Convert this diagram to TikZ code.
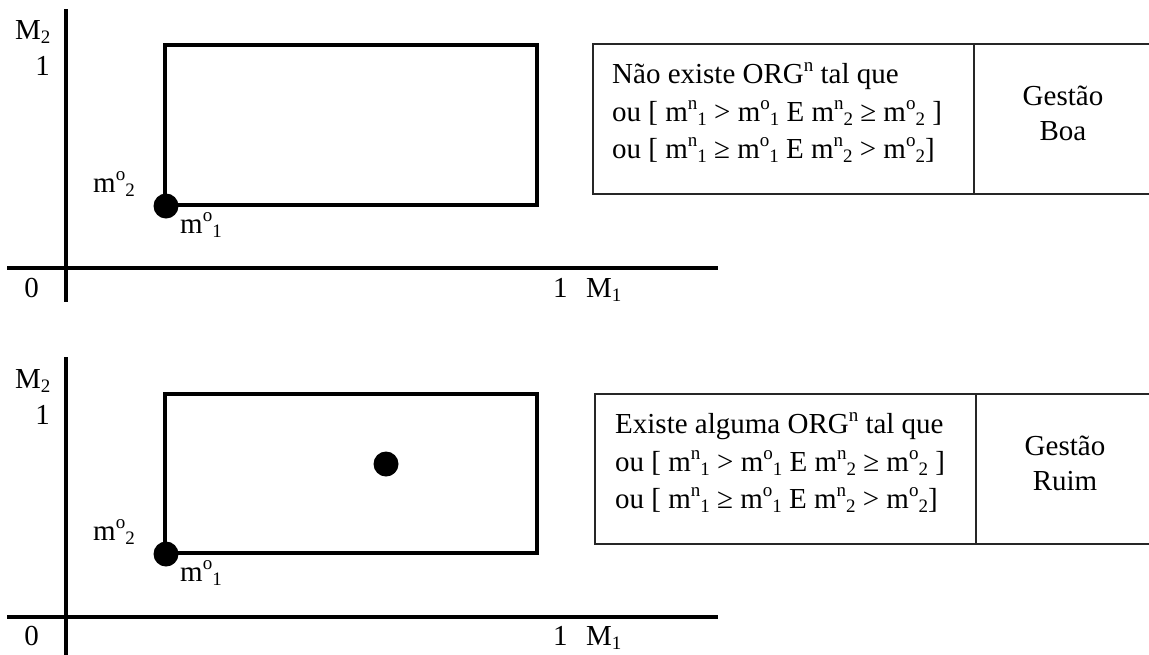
\documentclass[tikz,border=0pt]{standalone}
\usepackage{fontspec}
\setmainfont{Liberation Serif}
\newcommand{\up}[1]{\raisebox{12pt}{\fontsize{19}{19}\selectfont #1}}
\newcommand{\dn}[1]{\raisebox{-4pt}{\fontsize{19}{19}\selectfont #1}}
\begin{document}
\begin{tikzpicture}[x=1pt,y=-1pt,
  axis/.style={line width=4pt},
  region/.style={line width=4pt},
  cell/.style={line width=1.6pt, black!85},
  lbl/.style={font=\fontsize{29}{35}\selectfont, inner sep=0pt},
  dot/.style={circle, fill=black, minimum size=25pt, inner sep=0pt}]
\useasboundingbox (0,0) rectangle (1149,654);

% ---------- top panel ----------
\begin{scope}
\coordinate (yt) at (66,9); \coordinate (yb) at (66,302);
\coordinate (xl) at (7,268); \coordinate (xr) at (718,268);
\draw[axis] (yt) -- (yb);
\draw[axis] (xl) -- (xr);
\node[lbl, anchor=base west] (M2a) at (15,39) {M\dn{2}};
\node[lbl, anchor=base east] (oneYa) at (50,75) {1};
\node[lbl, anchor=base east] (zeroa) at (39,297) {0};
\node[lbl, anchor=base west] (oneXa) at (553,297) {1};
\node[lbl, anchor=base west] (M1a) at (586,297) {M\dn{1}};
\coordinate (ra) at (165,205); \coordinate (rb) at (537,45);
\draw[region] (ra) rectangle (rb);
\node[dot] (oa) at (166,206) {};
\node[lbl, anchor=base west] (mo2a) at (93,192) {m\up{o}\dn{2}};
\node[lbl, anchor=base west] (mo1a) at (180,233) {m\up{o}\dn{1}};
% table
\coordinate (ta) at (1149,44); \coordinate (tb) at (593,44);
\coordinate (tc) at (593,194); \coordinate (td) at (1149,194);
\coordinate (da) at (974,44); \coordinate (db) at (974,194);
\draw[cell] (ta) -- (tb) -- (tc) -- (td);
\draw[cell] (da) -- (db);
\node[lbl, anchor=base west] (la1) at (612,83) {Não existe ORG\up{n} tal que};
\node[lbl, anchor=base west] (la2) at (612,121) {ou [ m\up{n}\dn{1} > m\up{o}\dn{1} E m\up{n}\dn{2} ≥ m\up{o}\dn{2} ]};
\node[lbl, anchor=base west] (la3) at (612,158) {ou [ m\up{n}\dn{1} ≥ m\up{o}\dn{1} E m\up{n}\dn{2} > m\up{o}\dn{2}]};
\node[lbl, anchor=base] (ga1) at (1063,105) {Gestão};
\node[lbl, anchor=base] (ga2) at (1063,140) {Boa};
\end{scope}

% ---------- bottom panel ----------
\begin{scope}[shift={(0,349)}]
\coordinate (yt2) at (66,8); \coordinate (yb2) at (66,306);
\coordinate (xl2) at (7,268); \coordinate (xr2) at (718,268);
\draw[axis] (yt2) -- (yb2);
\draw[axis] (xl2) -- (xr2);
\node[lbl, anchor=base west] (M2b) at (15,39) {M\dn{2}};
\node[lbl, anchor=base east] (oneYb) at (50,75) {1};
\node[lbl, anchor=base east] (zerob) at (39,296) {0};
\node[lbl, anchor=base west] (oneXb) at (553,296) {1};
\node[lbl, anchor=base west] (M1b) at (586,296) {M\dn{1}};
\coordinate (rc) at (165,204); \coordinate (rd) at (537,45);
\draw[region] (rc) rectangle (rd);
\node[dot] (ob) at (166,205) {};
\node[dot] (pb) at (386,115) {};
\node[lbl, anchor=base west] (mo2b) at (93,191) {m\up{o}\dn{2}};
\node[lbl, anchor=base west] (mo1b) at (180,232) {m\up{o}\dn{1}};
% table
\coordinate (te) at (1149,45); \coordinate (tf) at (595,45);
\coordinate (tg) at (595,195); \coordinate (th) at (1149,195);
\coordinate (dc) at (976,45); \coordinate (dd) at (976,195);
\draw[cell] (te) -- (tf) -- (tg) -- (th);
\draw[cell] (dc) -- (dd);
\node[lbl, anchor=base west] (lb1) at (615,84) {Existe alguma ORG\up{n} tal que};
\node[lbl, anchor=base west] (lb2) at (615,122) {ou [ m\up{n}\dn{1} > m\up{o}\dn{1} E m\up{n}\dn{2} ≥ m\up{o}\dn{2} ]};
\node[lbl, anchor=base west] (lb3) at (615,159) {ou [ m\up{n}\dn{1} ≥ m\up{o}\dn{1} E m\up{n}\dn{2} > m\up{o}\dn{2}]};
\node[lbl, anchor=base] (gb1) at (1065,106) {Gestão};
\node[lbl, anchor=base] (gb2) at (1065,141) {Ruim};
\end{scope}
\end{tikzpicture}
\end{document}
